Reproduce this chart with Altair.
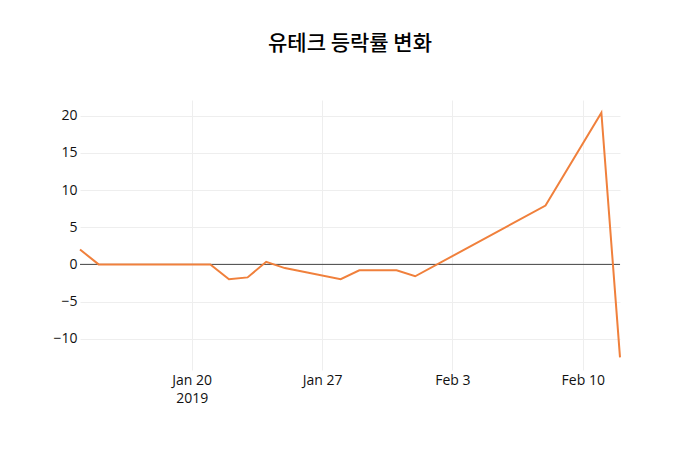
import altair as alt
import pandas as pd

dates = [
    "2019-01-14", "2019-01-15", "2019-01-16", "2019-01-17", "2019-01-18",
    "2019-01-21", "2019-01-22", "2019-01-23", "2019-01-24", "2019-01-25",
    "2019-01-28", "2019-01-29", "2019-01-30", "2019-01-31", "2019-02-01",
    "2019-02-08", "2019-02-11", "2019-02-12",
]
change = [
    2.0, 0.0, 0.0, 0.0, 0.0,
    0.0, -2.0, -1.75, 0.35, -0.5,
    -2.0, -0.8, -0.8, -0.8, -1.6,
    7.9, 20.4, -12.5,
]
tick_dates = ["2019-01-20", "2019-01-27", "2019-02-03", "2019-02-10"]
y_ticks = [-10, -5, 0, 5, 10, 15, 20]

df = pd.DataFrame({"date": dates, "change": change})

font = "Open Sans"
label_color = "#111111"

x_enc = alt.X(
    "date:T",
    scale=alt.Scale(type="utc", domain=["2019-01-14", "2019-02-12"], nice=False),
    axis=alt.Axis(
        title=None,
        values=[alt.DateTime(year=int(d[:4]), month=int(d[5:7]), date=int(d[8:]), utc=True) for d in tick_dates],
        labelExpr="datum.index == 0 ? [utcFormat(datum.value, '%b %-d'), utcFormat(datum.value, '%Y')] : utcFormat(datum.value, '%b %-d')",
        grid=True,
        gridColor="#eeeeee",
        domain=False,
        ticks=False,
        labelPadding=3,
        labelLineHeight=18,
        labelFontSize=14,
        labelColor=label_color,
        labelFont=font,
    ),
)

line = alt.Chart(df).mark_line(color="#F0803C", strokeWidth=2).encode(
    x=x_enc,
    y=alt.Y(
        "change:Q",
        scale=alt.Scale(domain=[-14.2, 22.1], nice=False, zero=False),
        axis=alt.Axis(
            title=None,
            values=y_ticks,
            grid=True,
            gridColor="#eeeeee",
            domain=False,
            ticks=False,
            labelPadding=3,
            labelFontSize=14,
            labelColor=label_color,
            labelFont=font,
        ),
    ),
)

zero = alt.Chart(pd.DataFrame({"y": [0]})).mark_rule(color="#444444", strokeWidth=1).encode(
    y="y:Q"
)

chart = alt.layer(zero, line).properties(
    width=540,
    height=270,
    autosize=alt.AutoSizeParams(type="none"),
    padding={"left": 72, "top": 92, "right": 72, "bottom": 72},
    title=alt.TitleParams(
        "유테크 등락률 변화",
        font="Noto Sans CJK KR",
        fontSize=21,
        fontWeight=500,
        color="#000000",
        anchor="middle",
        offset=46,
    ),
).configure_view(stroke=None)

chart.save("out.html", embed_options={"renderer": "svg", "actions": False})
